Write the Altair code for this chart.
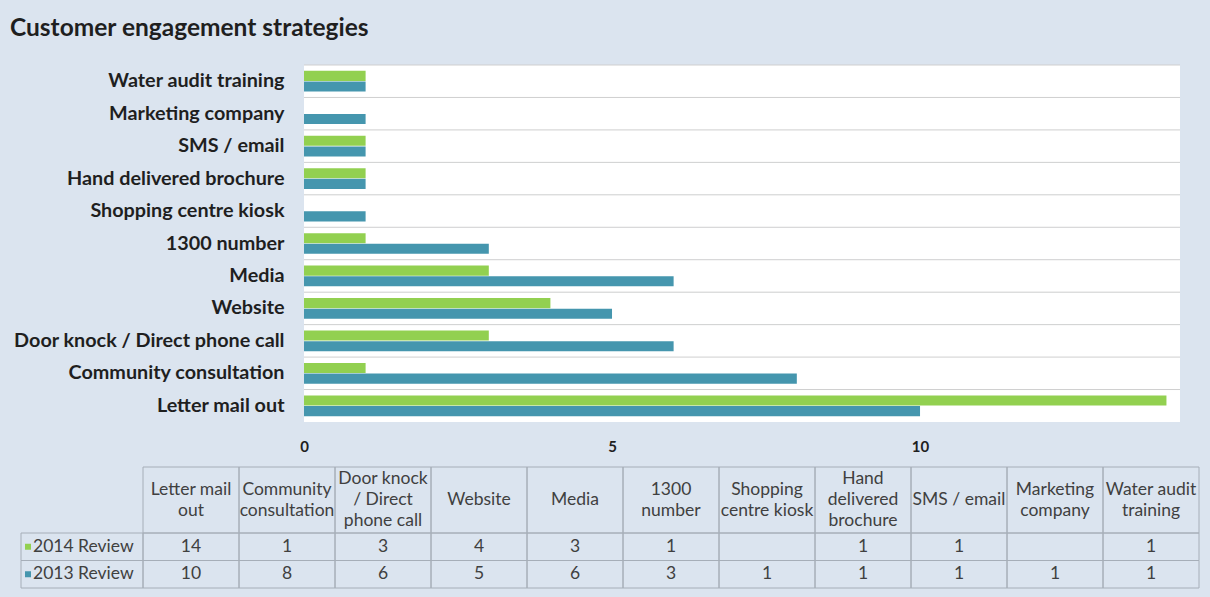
import altair as alt
import pandas as pd

# ---------------- data ----------------
categories = ["Letter mail out", "Community consultation", "Door knock / Direct phone call",
              "Website", "Media", "1300 number", "Shopping centre kiosk",
              "Hand delivered brochure", "SMS / email", "Marketing company", "Water audit training"]
header_labels = ["Letter mail\nout", "Community\nconsultation", "Door knock\n/ Direct\nphone call",
                 "Website", "Media", "1300\nnumber", "Shopping\ncentre kiosk",
                 "Hand\ndelivered\nbrochure", "SMS / email", "Marketing\ncompany", "Water audit\ntraining"]
series_names = ["2014 Review", "2013 Review"]
values_2014 = [14, 1, 3, 4, 3, 1, None, 1, 1, None, 1]
values_2013 = [10, 8, 6, 5, 6, 3, 1, 1, 1, 1, 1]
series_colors = ["#92D050", "#4596AE"]
x_ticks = [0, 5, 10]
x_max = 14.22

# ---------------- layout (pixels inside the view) ----------------
PAD_TOP = 50
W, H = 1210, 597 - PAD_TOP
PLOT_X = [304, 1180]
PLOT_Y = [15, 372]
TABLE_X = [143, 1199]
ROWHDR_X = [21, 143]
HDR_Y = [417, 483]
ROWS_Y = [483, 538]
LINE_H = 21
HDR_MID = (HDR_Y[1] - HDR_Y[0]) / 2
BG = "#DBE4EF"
FONT = "Lato"
TXT = "#1f1f1f"
CELL_TXT = "#404040"
CELL_STROKE = "#A6AEB8"
CELL_FS = 17.5

rows = []
for s, vals in zip(series_names, [values_2014, values_2013]):
    for c, v in zip(categories, vals):
        rows.append({"cat": c, "series": s, "value": v,
                     "label": "" if v is None else str(v)})
long_df = pd.DataFrame(rows)
bars_df = long_df.dropna(subset=["value"])
cat_df = pd.DataFrame({"cat": categories, "header": header_labels, "row": "h",
                       "nlines": [h.count("\n") + 1 for h in header_labels]})
ser_df = pd.DataFrame({"series": series_names, "col": "c"})

# ---------------- bar chart ----------------
x_scale = alt.Scale(domain=[0, x_max], range=PLOT_X, nice=False, zero=True)
y_scale = alt.Scale(domain=categories[::-1], range=PLOT_Y, paddingInner=0, paddingOuter=0)
x_axis = alt.Axis(orient="bottom", offset=PLOT_Y[1] - H, values=x_ticks, title=None,
                  labelFont=FONT, labelFontSize=15, labelFontWeight="bold", labelColor=TXT,
                  labelPadding=17, labelFlush=False, domain=False, ticks=False, grid=False)
y_axis = alt.Axis(orient="left", offset=-PLOT_X[0], title=None, labelFont=FONT,
                  labelFontSize=19.8, labelFontWeight="bold", labelColor=TXT,
                  labelPadding=20, labelLimit=500, domain=False, ticks=False, grid=False)
color_scale = alt.Scale(domain=series_names, range=series_colors)

bg = alt.Chart(cat_df).mark_rect(color="white").encode(
    y=alt.Y("cat:N", scale=y_scale, axis=y_axis),
    x=alt.XDatum(0, type="quantitative", scale=x_scale, axis=x_axis),
    x2=alt.X2Datum(x_max),
)
grid = alt.Chart(cat_df).mark_rule(color="#CFCFCF", strokeWidth=1).encode(
    y=alt.Y("cat:N", scale=y_scale, axis=y_axis, bandPosition=0),
    x=alt.XDatum(0, type="quantitative", scale=x_scale, axis=x_axis),
    x2=alt.X2Datum(x_max),
)
bars = alt.Chart(bars_df).mark_bar().encode(
    y=alt.Y("cat:N", scale=y_scale, axis=y_axis),
    x=alt.X("value:Q", scale=x_scale, axis=x_axis),
    yOffset=alt.YOffset("series:N", scale=alt.Scale(domain=series_names,
                                                     paddingInner=0.05, paddingOuter=0.55)),
    color=alt.Color("series:N", scale=color_scale, legend=None),
)
bar_group = alt.layer(bg, grid, bars)

# ---------------- data table ----------------
col_scale = alt.Scale(domain=categories, range=TABLE_X, paddingInner=0, paddingOuter=0)
hdr_scale = alt.Scale(domain=["h"], range=HDR_Y, paddingInner=0, paddingOuter=0)
row_scale = alt.Scale(domain=series_names, range=ROWS_Y, paddingInner=0, paddingOuter=0)
rowhdr_scale = alt.Scale(domain=["c"], range=ROWHDR_X, paddingInner=0, paddingOuter=0)

hdr_enc = dict(x=alt.X("cat:N", scale=col_scale, axis=None),
               y=alt.Y("row:N", scale=hdr_scale, axis=None))
hdr_rect = alt.Chart(cat_df).mark_rect(fillOpacity=0, stroke=CELL_STROKE, strokeWidth=1).encode(**hdr_enc)
hdr_text = alt.Chart(cat_df).mark_text(font=FONT, fontSize=CELL_FS, color=CELL_TXT, lineBreak="\n",
                                       lineHeight=LINE_H, baseline="middle").encode(
    text="header:N",
    yOffset=alt.YOffset("nlines:Q", scale=alt.Scale(domain=[1, 3],
                                                     range=[HDR_MID, HDR_MID - LINE_H])),
    **hdr_enc)

val_enc = dict(x=alt.X("cat:N", scale=col_scale, axis=None),
               y=alt.Y("series:N", scale=row_scale, axis=None))
val_rect = alt.Chart(long_df).mark_rect(fillOpacity=0, stroke=CELL_STROKE, strokeWidth=1).encode(**val_enc)
val_text = alt.Chart(long_df).mark_text(font=FONT, fontSize=CELL_FS, color=CELL_TXT).encode(
    text="label:N", **val_enc)

rh_enc = dict(x=alt.X("col:N", scale=rowhdr_scale, axis=None),
              y=alt.Y("series:N", scale=row_scale, axis=None))
rh_rect = alt.Chart(ser_df).mark_rect(fillOpacity=0, stroke=CELL_STROKE, strokeWidth=1).encode(**rh_enc)
rh_text = alt.Chart(ser_df).mark_text(font=FONT, fontSize=CELL_FS, color=CELL_TXT, align="left",
                                      dx=-49).encode(text="series:N", **rh_enc)
rh_key = alt.Chart(ser_df).mark_square(size=36, opacity=1, xOffset=-54).encode(
    color=alt.Color("series:N", scale=color_scale, legend=None), **rh_enc)

chart = alt.layer(
    bar_group, hdr_rect, hdr_text, val_rect, val_text, rh_rect, rh_text, rh_key
).resolve_scale(
    x="independent", y="independent", color="independent"
).properties(
    width=W, height=H,
    title=alt.Title("Customer engagement strategies", anchor="start", font=FONT,
                    fontSize=24.5, fontWeight="bold", color=TXT, dx=10, offset=9),
    autosize=alt.AutoSizeParams(type="none"),
    padding={"top": PAD_TOP, "left": 0, "right": 0, "bottom": 0},
    background=BG,
).configure_view(stroke=None)

chart.save("out.html", embed_options={"renderer": "svg", "actions": False})
